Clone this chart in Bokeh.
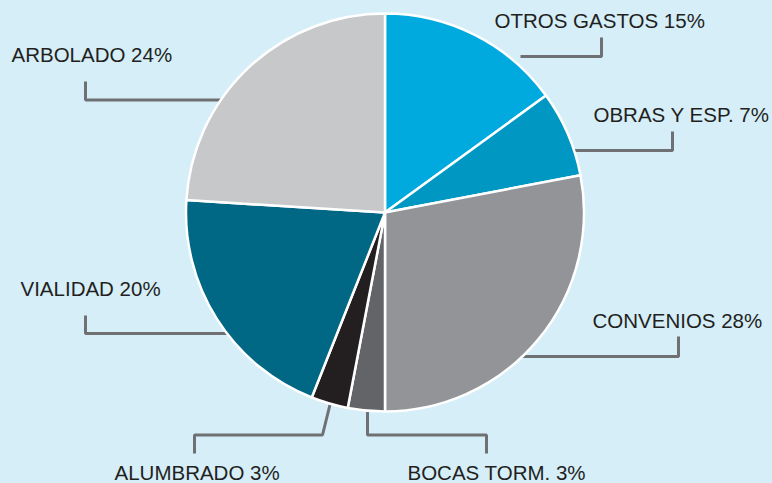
import numpy as np
from bokeh.plotting import figure
from bokeh.models import Range1d, ColumnDataSource
from bokeh.embed import file_html
from bokeh.resources import INLINE
from bokeh.core.properties import value

# ---- data ----
categories = ["OTROS GASTOS", "OBRAS Y ESP.", "CONVENIOS", "BOCAS TORM.",
              "ALUMBRADO", "VIALIDAD", "ARBOLADO"]
percent = [15, 7, 28, 3, 3, 20, 24]
colors = ["#00aadf", "#0098c3", "#929497", "#636467",
          "#231f20", "#006884", "#c7c8ca"]

# ---- layout (reference pixel coords, y down) ----
BG = "#d5eef8"
LINE = "#6f7073"
TXT = "#231f20"
CX, CY, R = 384.5, 212.0, 199.0
TEXT_SHIFT = 7
label_pos = [(494, 26.7), (593, 120.7), (592, 326.7), (407, 479),
             (114, 479), (20, 295), (11, 61)]
leaders = [
    [(520, 56), (601, 56), (601, 37)],
    [(568, 150), (672, 150), (672, 131)],
    [(515, 356), (678, 356), (678, 336)],
    [(367, 400), (367, 434.5), (486, 434.5), (486, 453)],
    [(331, 398), (322, 434.5), (194, 434.5), (194, 453)],
    [(240, 333), (85, 333), (85, 315)],
    [(230, 99.5), (85, 99.5), (85, 81)],
]

def Y(y):
    return 483 - y

p = figure(width=772, height=483, x_range=Range1d(0, 772), y_range=Range1d(0, 483),
           output_backend="svg", toolbar_location=None, min_border=0)
p.axis.visible = False
p.grid.visible = False
p.outline_line_color = None
p.background_fill_color = BG
p.border_fill_color = BG

# leader lines (under the pie)
p.multi_line(xs=[[pt[0] for pt in l] for l in leaders],
             ys=[[Y(pt[1]) for pt in l] for l in leaders],
             line_color=LINE, line_width=3)

# pie
vals = np.array(percent, dtype=float)
end = np.cumsum(vals) / vals.sum()
start = end - vals / vals.sum()
src = ColumnDataSource(dict(
    cat=categories,
    start=np.pi / 2 - 2 * np.pi * start,
    end=np.pi / 2 - 2 * np.pi * end,
    color=colors,
))
p.wedge(x=CX, y=Y(CY), radius=R, start_angle="start", end_angle="end",
        direction="clock", fill_color="color", line_color="white",
        line_width=2.5, source=src)

labels = [f"{c} {v}%" for c, v in zip(categories, percent)]
p.text(x=[lp[0] for lp in label_pos], y=[Y(lp[1] - TEXT_SHIFT) for lp in label_pos],
       text=labels, text_font=value("Liberation Sans"), text_font_size="20.5px",
       text_color=TXT, text_align="left", text_baseline="alphabetic")

html = file_html(p, INLINE)
html = html.replace("</head>", "<style>html,body{background:%s;margin:0;overflow:hidden;}</style></head>" % BG, 1)
open("out.html", "w").write(html)
